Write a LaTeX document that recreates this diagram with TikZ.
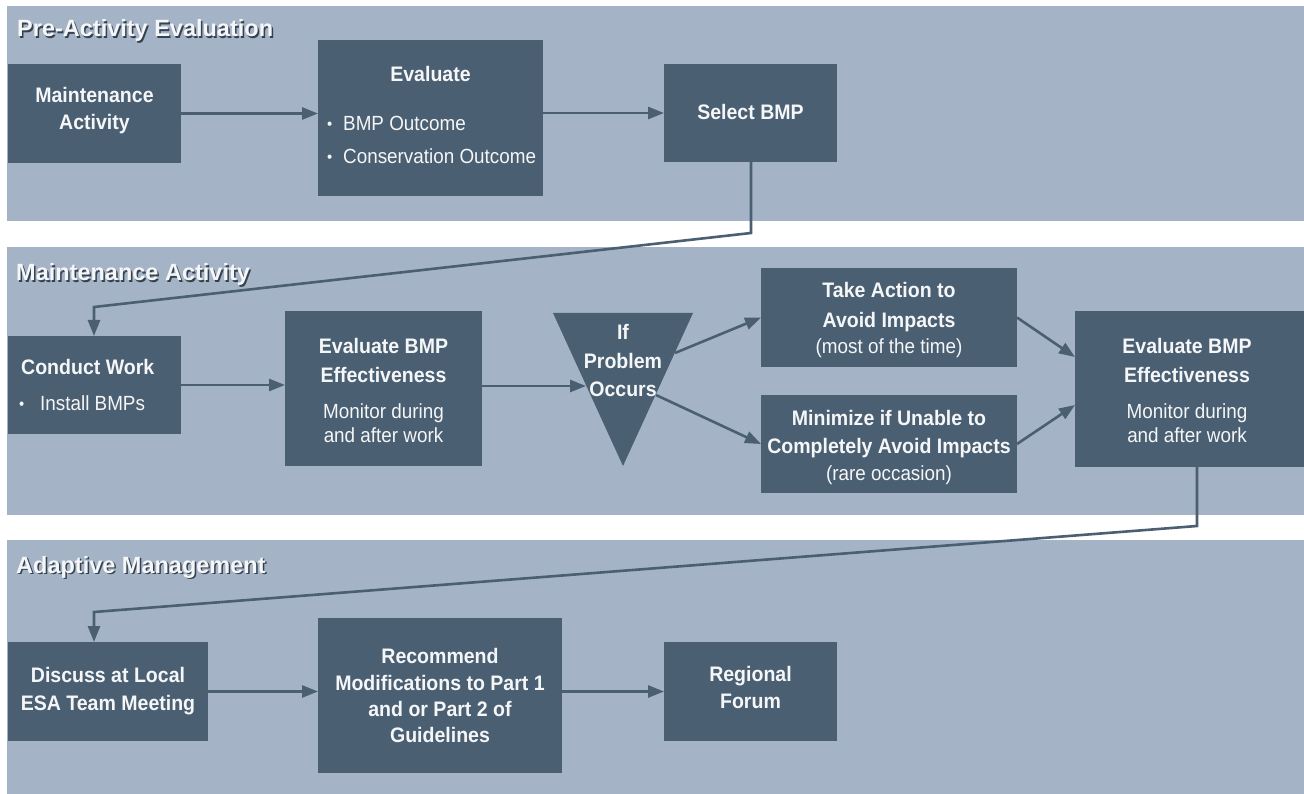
\documentclass[tikz,border=0pt]{standalone}
\usepackage{fontspec}
\setmainfont{Liberation Sans}
\newfontfamily\regf[FakeStretch=0.92]{Liberation Sans}
\newfontfamily\bldf[FakeStretch=0.93]{Liberation Sans}
\usetikzlibrary{arrows.meta}
\definecolor{bandc}{HTML}{A5B3C6}
\definecolor{boxc}{HTML}{4A5F72}
\definecolor{txtc}{HTML}{F5F6F8}
\definecolor{shadc}{HTML}{34414F}
\begin{document}
\begin{tikzpicture}[x=1pt,y=-1pt,
  band/.style={fill=bandc,draw=none},
  box/.style={fill=boxc,draw=none,inner sep=0pt,outer sep=0pt,anchor=north west},
  bt/.style={text=txtc,font=\bldf\bfseries\fontsize{21}{25}\selectfont,inner sep=0pt,anchor=base},
  rt/.style={text=txtc,font=\regf\fontsize{20.5}{24}\selectfont,inner sep=0pt,anchor=base},
  btl/.style={bt,anchor=base west},
  rtl/.style={rt,anchor=base west},
  bul/.style={text=txtc,font=\regf\fontsize{16}{16}\selectfont,inner sep=0pt,anchor=base west},
  ttl/.style={font=\bfseries\fontsize{23.5}{28}\selectfont,inner sep=0pt,anchor=base west},
  conn/.style={draw=boxc,line width=2.6pt,-{Triangle[length=16pt,width=12pt]}}
]
\useasboundingbox (0,0) rectangle (1304,794);
\fill[white] (0,0) rectangle (1304,794);

% bands
\fill[band] (7,6) rectangle (1304,221);
\fill[band] (7,247) rectangle (1304,515);
\fill[band] (7,540) rectangle (1304,794);

% titles
\node[ttl,text=shadc] (t1s) at (18.5,38.5) {Pre-Activity Evaluation};
\node[ttl,text=txtc] (t1) at (17,37) {Pre-Activity Evaluation};
\node[ttl,text=shadc] (t2s) at (17.5,282.5) {Maintenance Activity};
\node[ttl,text=txtc] (t2) at (16,281) {Maintenance Activity};
\node[ttl,text=shadc] (t3s) at (17.5,574.5) {Adaptive Management};
\node[ttl,text=txtc] (t3) at (16,573) {Adaptive Management};

% ---- band 1
\node[box,minimum width=173pt,minimum height=99pt] (mact) at (8,64) {};
\node[bt] (mact1) at (94.5,103) {Maintenance};
\node[bt] (mact2) at (94.5,130) {Activity};

\node[box,minimum width=225pt,minimum height=156pt] (eval) at (318,40) {};
\node[bt] (eval1) at (430.5,82) {Evaluate};
\node[bul] (evb1) at (327,130) {\textbullet};
\node[rtl] (eval2) at (343,131) {BMP Outcome};
\node[bul] (evb2) at (327,163) {\textbullet};
\node[rtl] (eval3) at (343,164) {Conservation Outcome};

\node[box,minimum width=173pt,minimum height=98pt] (sel) at (664,64) {};
\node[bt] (sel1) at (750.5,120) {Select BMP};

% ---- band 2
\node[box,minimum width=173pt,minimum height=98pt] (cond) at (8,336) {};
\node[btl] (cond1) at (21,374) {Conduct Work};
\node[bul] (cdb1) at (19,409) {\textbullet};
\node[rtl] (cond2) at (40,410) {Install BMPs};

\node[box,minimum width=197pt,minimum height=155pt] (ebe1) at (285,311) {};
\node[bt] (ebe1a) at (383.5,353) {Evaluate BMP};
\node[bt] (ebe1b) at (383.5,382) {Effectiveness};
\node[rt] (ebe1c) at (383.5,418) {Monitor during};
\node[rt] (ebe1d) at (383.5,442) {and after work};

\fill[boxc] (553,313) -- (693,313) -- (623,466) -- cycle;
\node[bt] (tri1) at (623,339) {If};
\node[bt] (tri2) at (623,368) {Problem};
\node[bt] (tri3) at (623,396) {Occurs};
\coordinate (triL) at (586,386);
\coordinate (triR1) at (675,353);
\coordinate (triR2) at (656,395);

\node[box,minimum width=256pt,minimum height=99pt] (take) at (761,268) {};
\node[bt] (take1) at (889,298) {Take Action to};
\node[bt] (take2) at (889,327) {Avoid Impacts};
\node[rt] (take3) at (889,353) {(most of the time)};

\node[box,minimum width=256pt,minimum height=98pt] (mini) at (761,395) {};
\node[bt] (mini1) at (889,425) {Minimize if Unable to};
\node[bt] (mini2) at (889,453) {Completely Avoid Impacts};
\node[rt] (mini3) at (889,480) {(rare occasion)};

\node[box,minimum width=229pt,minimum height=156pt] (ebe2) at (1075,311) {};
\node[bt] (ebe2a) at (1187,353) {Evaluate BMP};
\node[bt] (ebe2b) at (1187,382) {Effectiveness};
\node[rt] (ebe2c) at (1187,418) {Monitor during};
\node[rt] (ebe2d) at (1187,442) {and after work};

% ---- band 3
\node[box,minimum width=200pt,minimum height=99pt] (disc) at (8,642) {};
\node[bt] (disc1) at (108,682) {Discuss at Local};
\node[bt] (disc2) at (108,710) {ESA Team Meeting};

\node[box,minimum width=244pt,minimum height=155pt] (reco) at (318,618) {};
\node[bt] (reco1) at (440,663) {Recommend};
\node[bt] (reco2) at (440,690) {Modifications to Part 1};
\node[bt] (reco3) at (440,716) {and or Part 2 of};
\node[bt] (reco4) at (440,742) {Guidelines};

\node[box,minimum width=173pt,minimum height=99pt] (regi) at (664,642) {};
\node[bt] (regi1) at (750.5,681) {Regional};
\node[bt] (regi2) at (750.5,708) {Forum};

% ---- connectors
\draw[conn] (mact.east) -- (mact.east -| eval.west);
\draw[conn] (eval.east |- sel.west) -- (sel.west);
\coordinate (k1) at (751,233);
\coordinate (k2) at (94,307);
\draw[conn] (sel.south -| k1) -- (k1) -- (k2) -- (k2 |- cond.north);
\draw[conn] (cond.east) -- (cond.east -| ebe1.west);
\draw[conn] (ebe1.east |- triL) -- (triL);
\draw[conn] (triR1) -- (take.west);
\draw[conn] (triR2) -- (mini.west);
\draw[conn] (take.east) -- ([yshift=32pt]ebe2.west);
\draw[conn] (mini.east) -- ([yshift=-16pt]ebe2.west);
\coordinate (k3) at (1197,526);
\coordinate (k4) at (94,612);
\draw[conn] (ebe2.south -| k3) -- (k3) -- (k4) -- (k4 |- disc.north);
\draw[conn] (disc.east) -- (disc.east -| reco.west);
\draw[conn] (reco.east |- regi.west) -- (regi.west);
\end{tikzpicture}
\end{document}
